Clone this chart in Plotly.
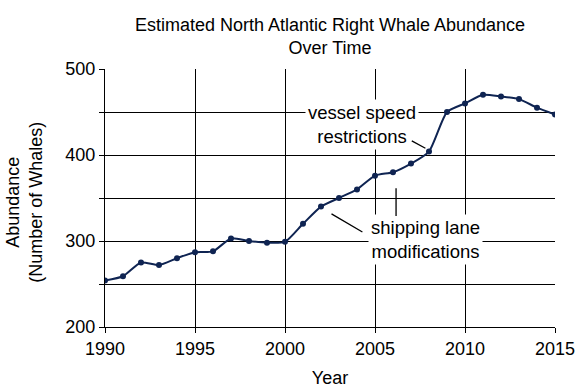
import plotly.graph_objects as go

years = list(range(1990, 2016))
abundance = [254, 259, 275, 272, 280, 287, 288, 303, 300, 298, 299, 320, 340,
             350, 360, 376, 380, 390, 404, 450, 460, 470, 468, 465, 455, 447]
x_ticks = [1990, 1995, 2000, 2005, 2010, 2015]
y_ticks = [200, 250, 300, 350, 400, 450, 500]
y_labels = ["200", "", "300", "", "400", "", "500"]

line_color = "#0f2452"
font = "Liberation Sans, Arial, sans-serif"

fig = go.Figure()
fig.add_trace(go.Scatter(
    x=years, y=abundance, mode="lines+markers",
    line=dict(color=line_color, width=2, shape="spline", smoothing=0.6),
    marker=dict(color=line_color, size=6),
    hoverinfo="x+y", showlegend=False,
))

fig.add_annotation(x=2004.3, y=436, xref="x", yref="y",
                   text="vessel speed<br>restrictions", showarrow=False,
                   bgcolor="white", font=dict(size=18.5, color="black", family=font),
                   borderpad=2)
fig.add_annotation(x=2007.8, y=302, xref="x", yref="y",
                   text="shipping lane<br>modifications", showarrow=False,
                   bgcolor="white", font=dict(size=18.5, color="black", family=font),
                   borderpad=2)
# connector lines
for (x0, y0, x1, y1) in [(2006.96, 417.4, 2007.8, 407.8),
                         (2002.5, 332.6, 2004.3, 310.5),
                         (2006.17, 363.0, 2006.17, 329.0)]:
    fig.add_annotation(x=x1, y=y1, ax=x0, ay=y0, xref="x", yref="y",
                       axref="x", ayref="y", text="", showarrow=True,
                       arrowhead=0, arrowwidth=1.3, arrowcolor="black")

# y-axis title
fig.add_annotation(x=-0.178, y=0.485, xref="paper", yref="paper",
                   xanchor="center", yanchor="middle", textangle=-90,
                   text="Abundance<br>(Number of Whales)", showarrow=False,
                   font=dict(size=18, color="black", family=font))

fig.update_layout(
    width=588, height=388,
    margin=dict(l=105, r=33, t=69, b=61),
    paper_bgcolor="white", plot_bgcolor="white",
    font=dict(family=font, size=18, color="black"),
    title=dict(text="Estimated North Atlantic Right Whale Abundance<br>Over Time",
               xref="paper", x=0.5, xanchor="center",
               yref="container", y=0.921, yanchor="middle",
               font=dict(size=18, family=font, color="black")),
)
fig.update_xaxes(
    range=[1990, 2015], tickvals=x_ticks, ticktext=[str(v) for v in x_ticks],
    showgrid=True, gridcolor="black", gridwidth=1,
    showline=True, linecolor="black", linewidth=1, mirror=False,
    ticks="outside", ticklen=5, tickcolor="black",
    title=dict(text="Year", font=dict(size=18)), automargin=False,
    zeroline=False, tickfont=dict(size=18),
)
fig.update_yaxes(
    range=[200, 500], tickvals=y_ticks, ticktext=y_labels,
    showgrid=True, gridcolor="black", gridwidth=1,
    showline=True, linecolor="black", linewidth=1,
    ticks="outside", ticklen=5, tickcolor="black",
    automargin=False,
    zeroline=False, tickfont=dict(size=18),
)

fig.write_html("out.html", config={"displayModeBar": False},
               post_script="document.body.style.margin='0';")
